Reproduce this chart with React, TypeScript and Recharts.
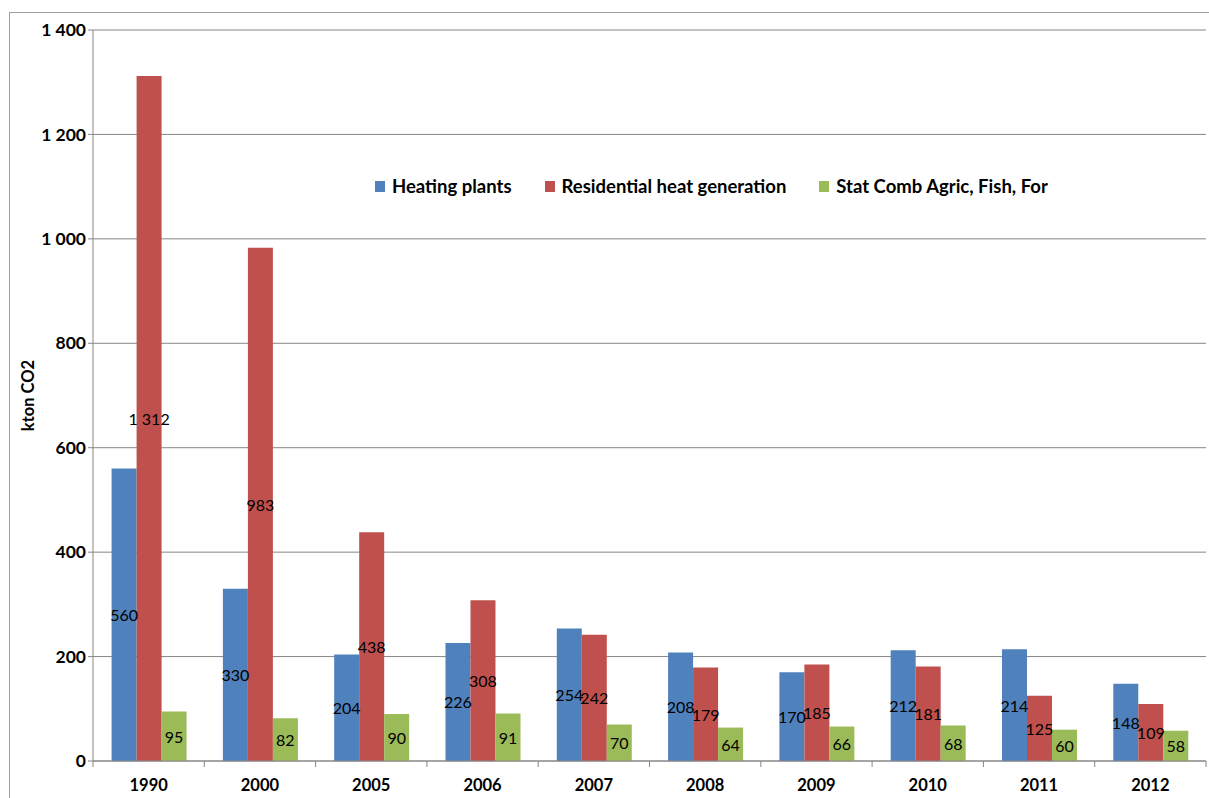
import { BarChart, Bar, XAxis, YAxis, CartesianGrid, Legend, LabelList } from 'recharts'

const years = ['1990', '2000', '2005', '2006', '2007', '2008', '2009', '2010', '2011', '2012']
const heatingPlants = [560, 330, 204, 226, 254, 208, 170, 212, 214, 148]
const residentialHeat = [1312, 983, 438, 308, 242, 179, 185, 181, 125, 109]
const statCombAgric = [95, 82, 90, 91, 70, 64, 66, 68, 60, 58]
const yTicks = [0, 200, 400, 600, 800, 1000, 1200, 1400]

const data = years.map((year, i) => ({
  year,
  heating: heatingPlants[i],
  residential: residentialHeat[i],
  stat: statCombAgric[i],
}))

const font = 'Lato, "Open Sans", sans-serif'
const fmt = (v: number) => String(v).replace(/\B(?=(\d{3})+(?!\d))/g, ' ')

// ticks sit between categories, labels stay centred under each group
function YearTick(props: any) {
  const { x, y, payload } = props
  const half = 111.3 / 2
  return (
    <g>
      <line x1={x - half} y1={y - 8} x2={x - half} y2={y - 2} stroke="#868686" />
      {payload.index === years.length - 1 && (
        <line x1={x + half} y1={y - 8} x2={x + half} y2={y - 2} stroke="#868686" />
      )}
      <text x={x} y={y + 22} textAnchor="middle" fontFamily={font} fontWeight={700} fontSize={16.5} fill="#000">
        {payload.value}
      </text>
    </g>
  )
}

// value printed in the middle of its bar, no wrapping
function CenterLabel(props: any) {
  const { x, y, width, height, value } = props
  return (
    <text
      x={x + width / 2}
      y={y + height / 2}
      textAnchor="middle"
      dominantBaseline="central"
      fontFamily={font}
      fontSize={16}
      fill="#000"
    >
      {fmt(value)}
    </text>
  )
}

function LegendRow(props: any) {
  const { payload } = props
  return (
    <div style={{ display: 'flex', alignItems: 'center', fontFamily: font, fontWeight: 700, fontSize: 18.5, color: '#000' }}>
      {payload.map((entry: any) => (
        <div key={entry.value} style={{ display: 'flex', alignItems: 'center', marginRight: 33 }}>
          <span style={{ width: 10, height: 11, background: entry.color, marginRight: 7, display: 'inline-block' }} />
          <span>{entry.value}</span>
        </div>
      ))}
    </div>
  )
}

export default function App() {
  return (
    <div style={{ position: 'relative', width: 1209, height: 798, background: '#fff' }}>
      <style>{'body{margin:0}'}</style>
      <div
        style={{
          position: 'absolute',
          left: 9,
          top: 12,
          width: 1209,
          height: 798,
          border: '1px solid #a0a0a0',
        }}
      />
      <div style={{ position: 'absolute', left: 0, top: 0 }}>
        <BarChart
          width={1209}
          height={798}
          data={data}
          margin={{ top: 30, right: 3, left: 10, bottom: 7 }}
          barCategoryGap="16.7%"
          barGap={0}
        >
          <CartesianGrid vertical={false} stroke="#868686" strokeWidth={1} />
          <XAxis
            dataKey="year"
            axisLine={{ stroke: '#868686' }}
            tickLine={false}
            tick={<YearTick />}
            height={30}
            interval={0}
          />
          <YAxis
            domain={[0, 1400]}
            ticks={yTicks}
            width={83}
            axisLine={{ stroke: '#868686' }}
            tickLine={{ stroke: '#868686' }}
            tickSize={5}
            tickFormatter={fmt}
            tick={{ fontFamily: font, fontWeight: 700, fontSize: 17.5, fill: '#000' }}
            label={{
              value: 'kton CO2',
              angle: -90,
              position: 'insideLeft',
              offset: 18,
              style: { fontFamily: font, fontWeight: 700, fontSize: 16.5, fill: '#000', textAnchor: 'middle' },
            }}
          />
          <Legend
            verticalAlign="middle"
            align="center"
            content={<LegendRow />}
            wrapperStyle={{ top: 175, left: 375, width: 760 }}
          />
          <Bar dataKey="heating" name="Heating plants" fill="#4F81BD" isAnimationActive={false}>
            <LabelList dataKey="heating" content={<CenterLabel />} />
          </Bar>
          <Bar dataKey="residential" name="Residential heat generation" fill="#C0504D" isAnimationActive={false}>
            <LabelList dataKey="residential" content={<CenterLabel />} />
          </Bar>
          <Bar dataKey="stat" name="Stat Comb Agric, Fish, For" fill="#9BBB59" isAnimationActive={false}>
            <LabelList dataKey="stat" content={<CenterLabel />} />
          </Bar>
        </BarChart>
      </div>
    </div>
  )
}
